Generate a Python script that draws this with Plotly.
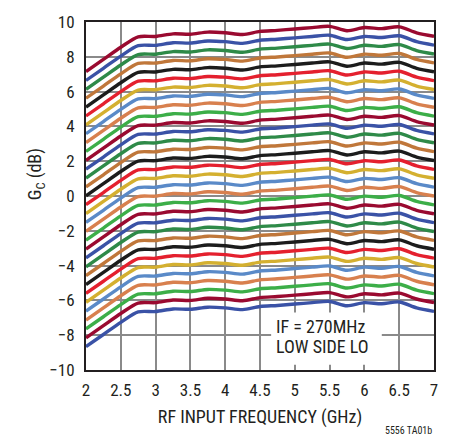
import plotly.graph_objects as go

freq_ghz = [2.0, 2.25, 2.5, 2.75, 3.0, 3.25, 3.5, 3.75, 4.0, 4.25, 4.5, 4.75,
            5.0, 5.25, 5.5, 5.75, 6.0, 6.25, 6.5, 6.75, 7.0]

gain_db = [
    [7.15, 7.85, 8.55, 9.15, 9.17, 9.32, 9.30, 9.42, 9.38, 9.28, 9.46, 9.52, 9.60, 9.68, 9.75, 9.50, 9.68, 9.62, 9.72, 9.38, 9.18],
    [6.64, 7.34, 8.04, 8.64, 8.66, 8.81, 8.79, 8.91, 8.87, 8.77, 8.95, 9.01, 9.09, 9.17, 9.24, 8.99, 9.17, 9.11, 9.21, 8.87, 8.67],
    [6.13, 6.83, 7.53, 8.13, 8.15, 8.30, 8.28, 8.40, 8.36, 8.26, 8.44, 8.50, 8.58, 8.66, 8.73, 8.48, 8.66, 8.60, 8.70, 8.36, 8.16],
    [5.62, 6.32, 7.02, 7.62, 7.64, 7.79, 7.77, 7.89, 7.85, 7.75, 7.93, 7.99, 8.07, 8.15, 8.22, 7.97, 8.15, 8.09, 8.19, 7.85, 7.65],
    [5.11, 5.81, 6.51, 7.11, 7.13, 7.28, 7.26, 7.38, 7.34, 7.24, 7.42, 7.48, 7.56, 7.64, 7.71, 7.46, 7.64, 7.58, 7.68, 7.34, 7.14],
    [4.60, 5.30, 6.00, 6.60, 6.62, 6.77, 6.75, 6.87, 6.83, 6.73, 6.91, 6.97, 7.05, 7.13, 7.20, 6.95, 7.13, 7.07, 7.17, 6.83, 6.63],
    [4.09, 4.79, 5.49, 6.09, 6.11, 6.26, 6.24, 6.36, 6.32, 6.22, 6.40, 6.46, 6.54, 6.62, 6.69, 6.44, 6.62, 6.56, 6.66, 6.32, 6.12],
    [3.58, 4.28, 4.98, 5.58, 5.60, 5.75, 5.73, 5.85, 5.81, 5.71, 5.89, 5.95, 6.03, 6.11, 6.18, 5.93, 6.11, 6.05, 6.15, 5.81, 5.61],
    [3.07, 3.77, 4.47, 5.07, 5.09, 5.24, 5.22, 5.34, 5.30, 5.20, 5.38, 5.44, 5.52, 5.60, 5.67, 5.42, 5.60, 5.54, 5.64, 5.30, 5.10],
    [2.56, 3.26, 3.96, 4.56, 4.58, 4.73, 4.71, 4.83, 4.79, 4.69, 4.87, 4.93, 5.01, 5.09, 5.16, 4.91, 5.09, 5.03, 5.13, 4.79, 4.59],
    [2.05, 2.75, 3.45, 4.05, 4.07, 4.22, 4.20, 4.32, 4.28, 4.18, 4.36, 4.42, 4.50, 4.58, 4.65, 4.40, 4.58, 4.52, 4.62, 4.28, 4.08],
    [1.54, 2.24, 2.94, 3.54, 3.56, 3.71, 3.69, 3.81, 3.77, 3.67, 3.85, 3.91, 3.99, 4.07, 4.14, 3.89, 4.07, 4.01, 4.11, 3.77, 3.57],
    [1.03, 1.73, 2.43, 3.03, 3.05, 3.20, 3.18, 3.30, 3.26, 3.16, 3.34, 3.40, 3.48, 3.56, 3.63, 3.38, 3.56, 3.50, 3.60, 3.26, 3.06],
    [0.52, 1.22, 1.92, 2.52, 2.54, 2.69, 2.67, 2.79, 2.75, 2.65, 2.83, 2.89, 2.97, 3.05, 3.12, 2.87, 3.05, 2.99, 3.09, 2.75, 2.55],
    [0.01, 0.71, 1.41, 2.01, 2.03, 2.18, 2.16, 2.28, 2.24, 2.14, 2.32, 2.38, 2.46, 2.54, 2.61, 2.36, 2.54, 2.48, 2.58, 2.24, 2.04],
    [-0.50, 0.20, 0.90, 1.50, 1.52, 1.67, 1.65, 1.77, 1.73, 1.63, 1.81, 1.87, 1.95, 2.03, 2.10, 1.85, 2.03, 1.97, 2.07, 1.73, 1.53],
    [-1.01, -0.31, 0.39, 0.99, 1.01, 1.16, 1.14, 1.26, 1.22, 1.12, 1.30, 1.36, 1.44, 1.52, 1.59, 1.34, 1.52, 1.46, 1.56, 1.22, 1.02],
    [-1.52, -0.82, -0.12, 0.48, 0.50, 0.65, 0.63, 0.75, 0.71, 0.61, 0.79, 0.85, 0.93, 1.01, 1.08, 0.83, 1.01, 0.95, 1.05, 0.71, 0.51],
    [-2.03, -1.33, -0.63, -0.03, -0.01, 0.14, 0.12, 0.24, 0.20, 0.10, 0.28, 0.34, 0.42, 0.50, 0.57, 0.32, 0.50, 0.44, 0.54, 0.20, 0.00],
    [-2.54, -1.84, -1.14, -0.54, -0.52, -0.37, -0.39, -0.27, -0.31, -0.41, -0.23, -0.17, -0.09, -0.01, 0.06, -0.19, -0.01, -0.07, 0.03, -0.31, -0.51],
    [-3.05, -2.35, -1.65, -1.05, -1.03, -0.88, -0.90, -0.78, -0.82, -0.92, -0.74, -0.68, -0.60, -0.52, -0.45, -0.70, -0.52, -0.58, -0.48, -0.82, -1.02],
    [-3.56, -2.86, -2.16, -1.56, -1.54, -1.39, -1.41, -1.29, -1.33, -1.43, -1.25, -1.19, -1.11, -1.03, -0.96, -1.21, -1.03, -1.09, -0.99, -1.33, -1.53],
    [-4.07, -3.37, -2.67, -2.07, -2.05, -1.90, -1.92, -1.80, -1.84, -1.94, -1.76, -1.70, -1.62, -1.54, -1.47, -1.72, -1.54, -1.60, -1.50, -1.84, -2.04],
    [-4.58, -3.88, -3.18, -2.58, -2.56, -2.41, -2.43, -2.31, -2.35, -2.45, -2.27, -2.21, -2.13, -2.05, -1.98, -2.23, -2.05, -2.11, -2.01, -2.35, -2.55],
    [-5.09, -4.39, -3.69, -3.09, -3.07, -2.92, -2.94, -2.82, -2.86, -2.96, -2.78, -2.72, -2.64, -2.56, -2.49, -2.74, -2.56, -2.62, -2.52, -2.86, -3.06],
    [-5.60, -4.90, -4.20, -3.60, -3.58, -3.43, -3.45, -3.33, -3.37, -3.47, -3.29, -3.23, -3.15, -3.07, -3.00, -3.25, -3.07, -3.13, -3.03, -3.37, -3.57],
    [-6.11, -5.41, -4.71, -4.11, -4.09, -3.94, -3.96, -3.84, -3.88, -3.98, -3.80, -3.74, -3.66, -3.58, -3.51, -3.76, -3.58, -3.64, -3.54, -3.88, -4.08],
    [-6.62, -5.92, -5.22, -4.62, -4.60, -4.45, -4.47, -4.35, -4.39, -4.49, -4.31, -4.25, -4.17, -4.09, -4.02, -4.27, -4.09, -4.15, -4.05, -4.39, -4.59],
    [-7.13, -6.43, -5.73, -5.13, -5.11, -4.96, -4.98, -4.86, -4.90, -5.00, -4.82, -4.76, -4.68, -4.60, -4.53, -4.78, -4.60, -4.66, -4.56, -4.90, -5.10],
    [-7.64, -6.94, -6.24, -5.64, -5.62, -5.47, -5.49, -5.37, -5.41, -5.51, -5.33, -5.27, -5.19, -5.11, -5.04, -5.29, -5.11, -5.17, -5.07, -5.41, -5.61],
    [-8.15, -7.45, -6.75, -6.15, -6.13, -5.98, -6.00, -5.88, -5.92, -6.02, -5.84, -5.78, -5.70, -5.62, -5.55, -5.80, -5.62, -5.68, -5.58, -5.92, -6.12],
    [-8.66, -7.96, -7.26, -6.66, -6.64, -6.49, -6.51, -6.39, -6.43, -6.53, -6.35, -6.29, -6.21, -6.13, -6.06, -6.31, -6.13, -6.19, -6.09, -6.43, -6.63],
]

palette = ["#9a0a30", "#3a52a6", "#2e8a48", "#c0773a", "#1c1c1c",
           "#e4202e", "#d4b030", "#5a8ac8", "#d8804e", "#3cae48"]

x_ticks = [2, 2.5, 3, 3.5, 4, 4.5, 5, 5.5, 6, 6.5, 7]
x_tick_text = ["2", "2.5", "3", "3.5", "4", "4.5", "5", "5.5", "6", "6.5", "7"]
y_ticks = [-10, -8, -6, -4, -2, 0, 2, 4, 6, 8, 10]
y_tick_text = ["\u221210", "\u22128", "\u22126", "\u22124", "\u22122", "0", "2", "4", "6", "8", "10"]

FONT = "Liberation Sans Narrow, Roboto Condensed, Arial Narrow, Liberation Sans, Arial"

fig = go.Figure()
for i, row in enumerate(gain_db):
    fig.add_trace(go.Scatter(
        x=freq_ghz, y=row, mode="lines",
        line=dict(color=palette[i % len(palette)], width=3.4, shape="spline", smoothing=0.8),
        showlegend=False, hoverinfo="skip",
    ))

# white box behind the annotation text (covers gridlines only)
fig.add_shape(type="rect", xref="x", yref="y", x0=4.66, x1=6.25, y0=-9.7, y1=-6.7,
              fillcolor="white", line=dict(width=0), layer="between")

fig.add_annotation(x=4.70, y=-7.5, xref="x", yref="y", text="IF = 270MHz",
                   showarrow=False, xanchor="left", yanchor="middle",
                   font=dict(family=FONT, size=18, color="#231f20"))
fig.add_annotation(x=4.70, y=-8.65, xref="x", yref="y", text="LOW SIDE LO",
                   showarrow=False, xanchor="left", yanchor="middle",
                   font=dict(family=FONT, size=18, color="#231f20"))

fig.add_annotation(x=35, y=172, xref="paper", yref="paper", text="G<sub>C</sub> (dB)",
                   showarrow=False, textangle=-90, xanchor="center", yanchor="middle",
                   font=dict(family=FONT, size=18, color="#231f20"))

fig.add_annotation(x=437, y=431, xref="paper", yref="paper", text="5556 TA01b",
                   showarrow=False, xanchor="right", yanchor="middle",
                   font=dict(family=FONT, size=10, color="#231f20"))

# convert pixel annotation positions to paper coords
W, H = 450, 436
L, R, T, B = 86, 13, 19, 66
pw, ph = W - L - R, H - T - B
for ann in fig.layout.annotations:
    if ann.xref == "paper":
        px, py = ann.x, ann.y
        ann.x = (px - L) / pw
        ann.y = (H - B - py) / ph

fig.update_layout(
    width=W, height=H,
    margin=dict(l=L, r=R, t=T, b=B),
    paper_bgcolor="white", plot_bgcolor="white",
    font=dict(family=FONT, size=17, color="#231f20"),
    xaxis=dict(
        range=[2, 7], tickvals=x_ticks, ticktext=x_tick_text,
        showgrid=True, gridcolor="#8a8a8a", gridwidth=1.5,
        showline=True, linecolor="#231f20", linewidth=2, mirror=True,
        ticks="outside", ticklen=4, tickcolor="white",
        zeroline=False, fixedrange=True,
        title=dict(text="RF INPUT FREQUENCY (GHz)", font=dict(size=18), standoff=11),
    ),
    yaxis=dict(
        range=[-10, 10], tickvals=y_ticks, ticktext=y_tick_text,
        showgrid=True, gridcolor="#8a8a8a", gridwidth=1.5,
        showline=True, linecolor="#231f20", linewidth=2, mirror=True,
        ticks="outside", ticklen=6, tickcolor="white",
        zeroline=False, fixedrange=True,
    ),
)

fig.write_html("out.html")
